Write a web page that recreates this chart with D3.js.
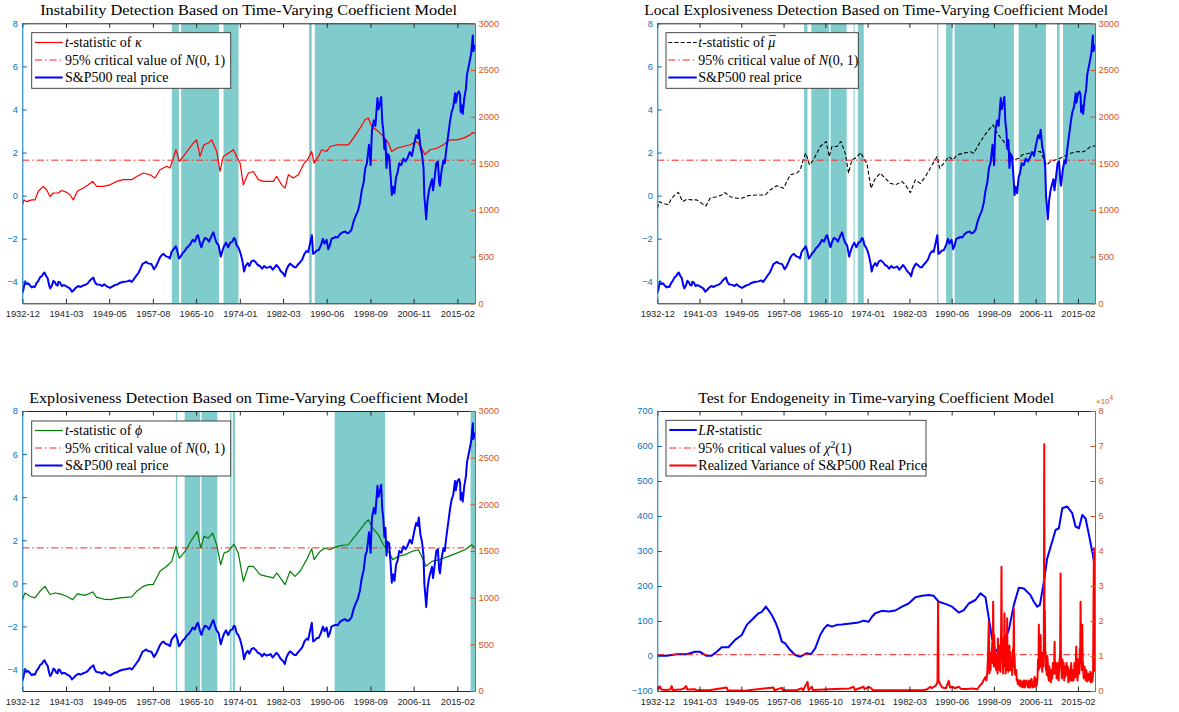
<!DOCTYPE html>
<html>
<head>
<meta charset="utf-8">
<script src="https://cdn.jsdelivr.net/npm/d3@7"></script>
<style>
  body { margin: 0; background: #fff; }
  svg { display: block; }
</style>
</head>
<body>
<svg id="chart" width="1179" height="712"></svg>
<script>
// ---- tick labels ----
const dateTicks = ["1932-12","1941-03","1949-05","1957-08","1965-10","1974-01","1982-03","1990-06","1998-09","2006-11","2015-02"];
const dateRange = ["1932-12","2018-06"];
const tstatTicks = [-4,-2,0,2,4,6,8];
const priceTicks = [0,500,1000,1500,2000,2500,3000];
const lrTicks = [-100,0,100,200,300,400,500,600,700];
const rvTicks = [0,1,2,3,4,5,6,7,8];

// ---- critical values ----
const critNormal = 1.645;
const critChi2 = 3.84;

// ---- S&P500 real price (decimal year, level) ----
const spReal = [[1932.92,110],[1933.1,140],[1933.3,200],[1933.45,235],[1933.7,205],[1934.0,215],[1934.4,190],[1934.7,170],[1935.0,180],[1935.3,175],[1935.6,215],[1935.94,240],[1936.3,280],[1936.6,290],[1936.9,320],[1937.1,330],[1937.4,295],[1937.7,270],[1938.0,190],[1938.2,160],[1938.5,190],[1938.8,240],[1939.1,225],[1939.3,200],[1939.6,190],[1939.75,230],[1940.0,225],[1940.4,185],[1940.7,195],[1941.0,190],[1941.4,175],[1941.9,160],[1942.3,125],[1942.6,140],[1943.0,165],[1943.5,185],[1943.9,175],[1944.4,190],[1944.9,200],[1945.3,215],[1945.7,245],[1946.1,265],[1946.35,275],[1946.6,230],[1946.9,205],[1947.3,200],[1947.7,195],[1948.0,185],[1948.4,205],[1948.8,185],[1949.3,170],[1949.5,165],[1949.9,180],[1950.4,195],[1950.8,200],[1951.2,215],[1951.7,225],[1952.2,230],[1952.7,235],[1953.2,245],[1953.6,230],[1954.0,260],[1954.5,300],[1954.9,330],[1955.3,380],[1955.6,420],[1955.9,430],[1956.3,445],[1956.6,430],[1956.9,425],[1957.3,420],[1957.8,365],[1958.2,400],[1958.6,450],[1958.9,490],[1959.3,520],[1959.6,530],[1959.9,510],[1960.2,500],[1960.5,495],[1960.8,480],[1961.1,550],[1961.5,580],[1961.9,610],[1962.2,560],[1962.5,480],[1962.8,500],[1963.2,540],[1963.6,560],[1963.9,590],[1964.3,610],[1964.7,640],[1965.1,680],[1965.5,660],[1965.9,720],[1966.1,730],[1966.5,640],[1966.75,600],[1967.0,650],[1967.4,700],[1967.8,690],[1968.2,660],[1968.5,700],[1968.8,740],[1969.0,760],[1969.3,700],[1969.6,650],[1970.0,620],[1970.4,500],[1970.7,560],[1971.0,610],[1971.4,650],[1971.8,600],[1972.2,650],[1972.6,660],[1972.9,700],[1973.1,690],[1973.4,620],[1973.7,600],[1974.0,560],[1974.3,500],[1974.6,420],[1974.8,340],[1975.1,400],[1975.5,430],[1975.8,400],[1976.2,450],[1976.6,460],[1977.0,440],[1977.4,410],[1977.8,400],[1978.2,370],[1978.6,400],[1979.0,380],[1979.4,385],[1979.8,395],[1980.2,360],[1980.5,380],[1980.9,410],[1981.3,385],[1981.7,345],[1982.2,320],[1982.5,290],[1982.8,360],[1983.2,405],[1983.5,425],[1983.9,405],[1984.3,385],[1984.6,385],[1984.9,410],[1985.4,440],[1985.8,470],[1986.2,530],[1986.6,560],[1986.9,550],[1987.3,650],[1987.6,730],[1987.85,530],[1988.1,540],[1988.5,565],[1988.9,570],[1989.3,620],[1989.7,690],[1990.0,640],[1990.4,680],[1990.7,580],[1991.0,620],[1991.3,690],[1991.7,700],[1992.1,710],[1992.5,705],[1992.9,740],[1993.4,760],[1993.9,770],[1994.3,750],[1994.7,760],[1995.1,790],[1995.5,880],[1995.9,940],[1996.3,990],[1996.7,1080],[1997.0,1200],[1997.4,1300],[1997.7,1450],[1998.0,1500],[1998.4,1700],[1998.7,1480],[1998.95,1850],[1999.3,1960],[1999.6,1900],[1999.8,2050],[2000.0,2200],[2000.2,2080],[2000.5,2150],[2000.7,2210],[2000.9,1950],[2001.1,1850],[2001.3,1650],[2001.5,1750],[2001.7,1450],[2001.9,1600],[2002.2,1580],[2002.5,1350],[2002.7,1160],[2002.9,1250],[2003.2,1180],[2003.5,1350],[2003.8,1400],[2004.1,1500],[2004.5,1480],[2004.9,1550],[2005.3,1520],[2005.7,1560],[2006.1,1620],[2006.5,1580],[2006.9,1700],[2007.3,1800],[2007.6,1770],[2007.8,1860],[2008.1,1680],[2008.4,1600],[2008.7,1450],[2008.85,1150],[2009.0,1050],[2009.2,900],[2009.45,1100],[2009.7,1200],[2009.95,1260],[2010.3,1330],[2010.5,1210],[2010.8,1350],[2011.1,1500],[2011.4,1520],[2011.65,1300],[2011.8,1260],[2012.1,1420],[2012.45,1530],[2012.7,1500],[2013.0,1650],[2013.4,1820],[2013.7,1950],[2014.0,2050],[2014.3,2100],[2014.65,2250],[2014.8,2150],[2015.1,2250],[2015.4,2270],[2015.6,2230],[2015.7,2050],[2016.0,2120],[2016.1,2030],[2016.4,2200],[2016.7,2300],[2016.9,2450],[2017.3,2560],[2017.7,2680],[2018.0,2870],[2018.1,2700],[2018.3,2760],[2018.42,2720]];

// ---- t-statistic of kappa ----
const tKappa = [[1932.92,-0.43],[1933.24,-0.2],[1933.74,-0.28],[1934.69,-0.2],[1935.31,-0.2],[1935.94,0.2],[1936.88,0.43],[1937.51,0.27],[1938.14,-0.04],[1938.77,0.12],[1939.72,0.12],[1940.35,0.24],[1941.29,0.15],[1941.92,0.04],[1942.55,-0.2],[1943.31,0.2],[1944.44,0.35],[1945.38,0.5],[1946.2,0.66],[1946.96,0.43],[1948.22,0.43],[1949.48,0.5],[1950.74,0.66],[1952.0,0.74],[1953.57,0.74],[1954.52,0.89],[1955.78,1.05],[1957.04,0.97],[1957.98,0.82],[1958.92,1.2],[1960.18,1.36],[1960.81,1.28],[1961.44,1.74],[1961.94,2.13],[1962.58,1.59],[1963.33,1.82],[1964.28,2.13],[1965.22,2.44],[1965.85,2.59],[1966.48,1.82],[1967.24,2.36],[1968.06,2.44],[1968.68,2.59],[1969.63,2.05],[1970.26,1.12],[1970.89,1.82],[1971.83,1.97],[1972.78,2.13],[1973.54,1.74],[1974.04,1.51],[1974.67,0.5],[1975.61,1.05],[1976.55,1.12],[1977.5,0.74],[1978.44,0.66],[1979.39,0.66],[1980.33,0.66],[1980.96,0.89],[1981.91,0.5],[1982.54,0.35],[1983.17,0.97],[1984.11,0.82],[1985.06,0.97],[1986.0,1.44],[1986.95,1.74],[1987.58,2.05],[1988.02,1.51],[1988.84,1.82],[1989.47,2.13],[1990.41,2.05],[1991.04,2.28],[1992.3,2.36],[1993.56,2.36],[1994.5,2.36],[1995.45,2.67],[1996.71,3.13],[1997.65,3.52],[1998.28,3.6],[1998.91,3.21],[2000.17,2.98],[2001.11,2.75],[2002.06,2.44],[2002.69,2.05],[2003.63,2.2],[2004.89,2.28],[2006.15,2.36],[2007.41,2.51],[2008.16,2.28],[2008.98,1.9],[2009.93,2.13],[2011.19,2.2],[2012.45,2.36],[2013.71,2.59],[2014.97,2.59],[2016.23,2.67],[2017.49,2.82],[2017.99,2.93],[2018.42,2.87]];

// ---- t-statistic of mu-bar ----
const tMuBar = [[1932.92,-0.59],[1933.31,-0.28],[1934.09,-0.36],[1935.07,-0.43],[1935.72,-0.12],[1936.37,0.03],[1937.03,0.15],[1937.87,-0.28],[1938.66,-0.17],[1939.63,-0.2],[1940.61,-0.2],[1941.59,-0.36],[1942.44,-0.48],[1943.22,-0.12],[1944.52,-0.05],[1945.5,0.03],[1946.15,0.14],[1947.13,-0.05],[1948.44,-0.12],[1949.42,-0.12],[1950.72,0.0],[1952.35,0.03],[1953.98,0.03],[1954.96,0.26],[1956.26,0.46],[1957.57,0.34],[1958.87,0.96],[1960.18,1.04],[1960.83,1.19],[1961.61,1.81],[1961.94,1.97],[1962.65,1.42],[1963.43,1.66],[1964.74,2.28],[1965.91,2.51],[1966.5,1.81],[1967.02,2.28],[1968.0,2.28],[1968.78,2.51],[1969.63,1.97],[1970.28,1.04],[1970.93,1.66],[1971.59,1.73],[1972.7,2.0],[1973.35,1.66],[1973.87,1.5],[1974.65,0.34],[1975.5,0.8],[1976.48,1.04],[1977.46,0.8],[1978.43,0.57],[1979.41,0.5],[1980.72,0.65],[1981.37,0.5],[1982.35,0.14],[1983.32,0.73],[1984.3,0.57],[1985.28,0.88],[1986.58,1.42],[1987.56,1.81],[1988.08,1.27],[1988.87,1.5],[1989.85,1.81],[1990.69,1.66],[1991.47,1.89],[1992.78,1.97],[1994.08,2.04],[1994.74,1.97],[1996.04,2.51],[1997.35,2.97],[1998.52,3.28],[1999.3,2.89],[2000.61,2.51],[2001.58,2.12],[2002.56,1.66],[2003.54,1.73],[2004.19,1.89],[2005.49,1.97],[2006.8,2.04],[2007.78,2.04],[2008.95,1.42],[2009.73,1.58],[2011.04,1.69],[2012.34,1.81],[2013.65,1.97],[2014.95,2.04],[2016.26,2.04],[2017.56,2.28],[2018.42,2.31]];

// ---- t-statistic of phi ----
const tPhi = [[1932.92,-0.76],[1933.42,-0.45],[1934.37,-0.6],[1935.31,-0.68],[1936.25,-0.37],[1937.2,-0.14],[1938.14,-0.52],[1939.09,-0.45],[1940.03,-0.49],[1941.29,-0.6],[1942.43,-0.76],[1943.31,-0.49],[1944.75,-0.56],[1946.2,-0.4],[1946.96,-0.65],[1948.22,-0.73],[1949.48,-0.76],[1951.37,-0.68],[1953.57,-0.63],[1954.52,-0.37],[1955.78,-0.14],[1956.72,-0.06],[1957.66,-0.06],[1958.92,0.56],[1960.18,0.79],[1961.13,1.02],[1961.94,1.71],[1962.58,1.17],[1963.65,1.48],[1964.91,2.02],[1965.98,2.41],[1966.61,1.64],[1967.24,2.18],[1968.06,2.1],[1968.87,2.33],[1969.63,1.79],[1970.38,0.86],[1971.01,1.4],[1971.83,1.48],[1972.9,1.82],[1973.72,1.4],[1974.67,0.09],[1975.61,0.79],[1976.55,0.79],[1977.81,0.4],[1979.07,0.32],[1980.33,0.25],[1980.96,0.48],[1981.91,0.17],[1982.54,-0.06],[1983.48,0.56],[1984.43,0.32],[1985.37,0.56],[1986.63,1.1],[1987.58,1.6],[1988.02,1.1],[1989.15,1.48],[1990.1,1.64],[1991.04,1.56],[1991.98,1.68],[1993.24,1.76],[1994.5,1.79],[1995.45,2.1],[1996.71,2.48],[1997.65,2.79],[1998.28,2.95],[1999.1,2.56],[2000.17,2.25],[2001.11,1.79],[2002.06,1.48],[2002.88,1.1],[2003.95,1.25],[2005.21,1.33],[2006.47,1.48],[2007.73,1.56],[2008.35,1.25],[2009.17,0.79],[2010.24,1.02],[2011.81,1.1],[2013.39,1.25],[2014.96,1.4],[2016.53,1.56],[2017.79,1.79],[2018.42,1.64]];

// ---- LR statistic ----
const lrStat = [[1932.92,1],[1934.74,1],[1936.7,5],[1938.66,5],[1940.29,12],[1941.26,12],[1942.44,1],[1943.55,1],[1944.52,12],[1945.5,25],[1946.81,25],[1948.11,46],[1949.42,60],[1950.39,89],[1951.7,108],[1952.68,122],[1953.33,126],[1954.11,141],[1954.63,131],[1955.28,117],[1955.94,98],[1956.59,74],[1957.24,41],[1957.89,36],[1958.87,17],[1959.85,3],[1960.83,-2],[1962.13,8],[1962.91,5],[1963.76,22],[1964.74,60],[1965.52,79],[1966.17,89],[1967.02,84],[1968.0,89],[1968.98,90],[1970.61,93],[1972.24,96],[1973.22,101],[1974.2,98],[1974.85,112],[1975.5,122],[1976.8,129],[1978.11,127],[1979.41,130],[1980.72,141],[1982.02,150],[1983.32,168],[1984.63,172],[1985.93,174],[1986.91,172],[1987.89,155],[1989.19,149],[1990.5,141],[1991.8,124],[1992.78,131],[1993.76,150],[1995.06,160],[1996.04,179],[1997.02,168],[1997.67,108],[1998.32,50],[1998.97,12],[1999.63,22],[2000.61,41],[2001.58,74],[2002.56,146],[2003.54,195],[2004.52,193],[2005.82,174],[2006.47,155],[2007.12,141],[2007.65,146],[2008.43,212],[2009.08,279],[2010.06,327],[2010.71,360],[2011.36,365],[2012.02,422],[2012.99,427],[2013.97,408],[2014.62,370],[2015.28,365],[2015.93,403],[2016.58,393],[2017.24,346],[2017.89,298],[2018.21,270],[2018.42,288]];

// ---- realized variance of the real price (units of 1e4) ----
const realVar = [[1932.92,0.15],[1933.1,0.05],[1933.44,0.13],[1933.7,0.04],[1934.5,0.03],[1935.4,0.04],[1935.72,0.14],[1935.9,0.03],[1937.5,0.04],[1938.1,0.07],[1938.53,0.14],[1938.8,0.04],[1940.3,0.05],[1940.5,0.02],[1943.0,0.02],[1946.48,0.1],[1946.7,0.02],[1950.0,0.01],[1955.61,0.1],[1955.8,0.02],[1957.24,0.09],[1957.5,0.02],[1960.2,0.03],[1961.15,0.08],[1961.4,0.02],[1962.26,0.26],[1962.45,0.03],[1963.1,0.12],[1963.3,0.03],[1966.5,0.05],[1970.4,0.07],[1971.26,0.12],[1971.5,0.03],[1973.22,0.12],[1973.4,0.05],[1974.2,0.12],[1974.6,0.09],[1975.0,0.03],[1978.0,0.02],[1982.0,0.02],[1984.6,0.02],[1985.5,0.04],[1986.26,0.12],[1986.5,0.08],[1987.3,0.15],[1987.65,0.25],[1987.76,2.53],[1987.86,0.3],[1988.2,0.18],[1988.6,0.1],[1989.3,0.08],[1989.85,0.29],[1990.1,0.1],[1990.6,0.12],[1991.0,0.08],[1991.8,0.12],[1992.3,0.06],[1993.5,0.06],[1994.5,0.07],[1995.39,0.05],[1995.9,0.15],[1996.37,0.22],[1996.7,0.32],[1997.0,0.4],[1997.2,0.3],[1997.35,0.48],[1997.5,0.9],[1997.67,1.98],[1997.8,0.5],[1997.9,0.9],[1998.0,0.6],[1998.1,1.1],[1998.2,0.9],[1998.35,1.4],[1998.44,0.8],[1998.52,2.55],[1998.65,0.7],[1998.72,1.6],[1998.8,1.3],[1998.88,0.7],[1998.97,1.12],[1999.1,0.6],[1999.2,1.0],[1999.3,0.84],[1999.38,0.5],[1999.45,1.5],[1999.55,0.7],[1999.63,1.31],[1999.72,0.9],[1999.8,0.6],[1999.88,1.1],[1999.96,0.55],[2000.08,1.8],[2000.15,3.55],[2000.22,1.3],[2000.28,0.9],[2000.35,1.4],[2000.41,0.84],[2000.48,0.5],[2000.55,1.5],[2000.64,0.9],[2000.74,2.22],[2000.82,0.7],[2000.9,1.0],[2000.98,0.5],[2001.06,0.74],[2001.15,1.6],[2001.2,0.9],[2001.26,2.08],[2001.33,0.6],[2001.4,0.9],[2001.5,0.55],[2001.6,1.0],[2001.7,1.3],[2001.8,0.6],[2001.91,1.12],[2001.98,0.7],[2002.05,0.6],[2002.15,0.9],[2002.24,0.46],[2002.32,0.8],[2002.4,1.2],[2002.48,0.7],[2002.56,2.36],[2002.63,0.9],[2002.7,1.0],[2002.8,0.5],[2002.89,0.46],[2003.05,0.6],[2003.12,0.3],[2003.2,0.35],[2003.35,0.2],[2003.54,0.31],[2003.7,0.15],[2003.8,0.3],[2003.9,0.25],[2004.05,0.12],[2004.19,0.27],[2004.3,0.1],[2004.4,0.12],[2004.5,0.3],[2004.6,0.3],[2004.7,0.1],[2004.8,0.15],[2005.0,0.3],[2005.17,0.22],[2005.3,0.12],[2005.4,0.1],[2005.5,0.3],[2005.6,0.3],[2005.75,0.1],[2005.9,0.12],[2006.0,0.35],[2006.1,0.25],[2006.3,0.1],[2006.47,0.24],[2006.6,0.4],[2006.7,0.12],[2006.8,0.2],[2006.9,0.35],[2007.0,0.15],[2007.12,0.27],[2007.22,0.5],[2007.3,0.9],[2007.38,0.6],[2007.45,1.89],[2007.5,0.9],[2007.55,0.65],[2007.62,1.2],[2007.68,1.1],[2007.73,0.7],[2007.78,1.6],[2007.84,1.0],[2007.9,0.7],[2008.0,1.1],[2008.1,0.55],[2008.18,0.9],[2008.25,1.0],[2008.35,0.7],[2008.42,1.4],[2008.5,7.05],[2008.56,1.6],[2008.62,2.3],[2008.7,1.0],[2008.76,1.12],[2008.83,0.6],[2008.9,0.7],[2009.0,0.46],[2009.1,1.0],[2009.2,0.8],[2009.3,0.4],[2009.4,0.3],[2009.5,0.7],[2009.6,0.5],[2009.7,0.3],[2009.8,0.25],[2009.93,0.6],[2010.06,0.36],[2010.18,0.8],[2010.3,0.6],[2010.42,0.5],[2010.52,1.41],[2010.6,0.6],[2010.7,0.5],[2010.8,0.8],[2010.91,0.36],[2011.0,0.7],[2011.1,0.5],[2011.2,0.8],[2011.3,0.3],[2011.4,0.6],[2011.5,0.9],[2011.6,1.1],[2011.69,3.36],[2011.75,1.2],[2011.8,0.8],[2011.88,0.5],[2011.95,0.36],[2012.05,0.9],[2012.2,0.6],[2012.3,0.8],[2012.4,0.3],[2012.5,0.7],[2012.6,0.4],[2012.7,0.55],[2012.85,0.8],[2012.99,0.46],[2013.1,0.7],[2013.2,0.25],[2013.3,0.5],[2013.4,0.6],[2013.52,0.3],[2013.65,0.55],[2013.78,0.8],[2013.9,0.3],[2014.0,0.6],[2014.1,0.5],[2014.2,0.3],[2014.3,0.36],[2014.4,0.8],[2014.5,0.7],[2014.6,0.4],[2014.68,0.9],[2014.76,1.27],[2014.84,0.5],[2014.9,0.6],[2015.0,0.3],[2015.08,0.46],[2015.17,0.9],[2015.25,0.8],[2015.35,0.5],[2015.45,1.2],[2015.52,0.8],[2015.6,2.55],[2015.68,1.3],[2015.75,1.0],[2015.84,0.6],[2015.93,1.89],[2016.0,0.9],[2016.1,0.7],[2016.18,0.4],[2016.26,0.36],[2016.38,0.7],[2016.5,0.5],[2016.6,0.3],[2016.7,0.6],[2016.8,0.35],[2016.9,0.27],[2017.05,0.5],[2017.2,0.35],[2017.35,0.3],[2017.5,0.55],[2017.6,0.25],[2017.7,0.3],[2017.8,0.5],[2017.89,0.27],[2017.98,0.4],[2018.05,0.6],[2018.13,2.5],[2018.21,4.08],[2018.3,1.5],[2018.36,0.9],[2018.42,0.55]];

// ---- rejection periods (start month, end month) ----
const kappaBands = [["1961-03","1962-07"],["1962-12","1970-02"],["1970-12","1973-10"],["1987-02","1987-08"],["1988-03","2018-06"]];
const muBarBands = [["1961-08","1962-04"],["1963-01","1966-07"],["1966-10","1969-12"],["1971-04","1971-06"],["1972-02","1973-04"],["1987-08","1987-11"],["1989-05","1990-08"],["1991-01","2002-08"],["2003-07","2008-11"],["2011-01","2011-07"],["2012-03","2018-06"]];
const phiBands = [["1961-12","1962-03"],["1963-08","1966-07"],["1966-10","1969-10"],["1972-03","1972-06"],["1972-09","1973-02"],["1991-12","2001-06"],["2017-08","2018-06"]];

// ---- colours ----
const LEFT_C = "#0072BD", RIGHT_C = "#D95319", AXIS_C = "#262626", BAND_C = "#80CCCC";
const CRIT_DASH = "7,3,1.5,3";

const ym = s => { const [y, m] = s.split("-").map(Number); return y + (m - 1) / 12; };
const svg = d3.select("#chart");
const SERIF = "'Liberation Serif','Times New Roman',serif";
const SANS = "'Liberation Sans',Arial,Helvetica,sans-serif";

// legend label made of plain / italic / superscript / barred pieces
function richText(sel, parts, size) {
  parts.forEach(p => {
    const ts = sel.append("tspan").text(p.t);
    if (p.i) ts.attr("font-style", "italic");
    if (p.sup) ts.attr("dy", -5).attr("font-size", size * 0.7);
    if (p.down) ts.attr("dy", 5);
    if (p.bar) {
      // macron drawn over the preceding glyph
      sel.append("tspan").text("\u00AF").attr("dx", -6.3).attr("dy", -1.2);
    }
  });
}

function drawPanel(cfg, idx) {
  const { l, r, t, b } = cfg.box;
  const x = d3.scaleLinear().domain(dateRange.map(ym)).range([l, r]);
  const yL = d3.scaleLinear().domain(cfg.leftDomain).range([b, t]);
  const yR = d3.scaleLinear().domain(cfg.rightDomain).range([b, t]);
  const g = svg.append("g");

  const clipId = "clip" + idx;
  g.append("clipPath").attr("id", clipId).append("rect")
    .attr("x", l).attr("y", t).attr("width", r - l).attr("height", b - t);
  const plot = g.append("g").attr("clip-path", `url(#${clipId})`);

  // shaded rejection periods
  plot.selectAll("rect.band").data(cfg.bands || []).join("rect")
    .attr("class", "band")
    .attr("x", d => x(ym(d[0])))
    .attr("width", d => Math.max(1, x(ym(d[1])) - x(ym(d[0]))))
    .attr("y", t).attr("height", b - t)
    .attr("fill", BAND_C);

  const lineL = d3.line().x(d => x(d[0])).y(d => yL(d[1]));
  const lineR = d3.line().x(d => x(d[0])).y(d => yR(d[1]));

  // left-axis statistic
  plot.append("path").datum(cfg.stat)
    .attr("d", lineL).attr("fill", "none")
    .attr("stroke", cfg.statColor).attr("stroke-width", cfg.statWidth)
    .attr("stroke-dasharray", cfg.statDash || null)
    .attr("stroke-linejoin", "round");

  // critical value
  plot.append("path").datum(dateRange.map(s => [ym(s), cfg.crit]))
    .attr("d", lineL).attr("fill", "none")
    .attr("stroke", "#FF2020").attr("stroke-width", 1)
    .attr("stroke-dasharray", CRIT_DASH);

  // right-axis series
  plot.append("path").datum(cfg.rightSeries)
    .attr("d", lineR).attr("fill", "none")
    .attr("stroke", cfg.rightColor).attr("stroke-width", 2)
    .attr("stroke-linejoin", "round");

  // axes
  const TL = 4.5;
  const axB = g.append("g").attr("transform", `translate(0,${b})`)
    .call(d3.axisBottom(x).tickValues(dateTicks.map(ym))
      .tickFormat((d, i) => dateTicks[i]).tickSizeInner(-TL).tickSizeOuter(0).tickPadding(7.5));
  const axT = g.append("g").attr("transform", `translate(0,${t})`)
    .call(d3.axisTop(x).tickValues(dateTicks.map(ym))
      .tickFormat("").tickSizeInner(-TL).tickSizeOuter(0));
  [axB, axT].forEach(a => {
    a.select(".domain").attr("stroke", AXIS_C);
    a.selectAll(".tick line").attr("stroke", AXIS_C);
    a.selectAll("text").attr("fill", AXIS_C);
    a.attr("font-family", SANS).attr("font-size", 9.3);
  });

  const axL = g.append("g").attr("transform", `translate(${l},0)`)
    .call(d3.axisLeft(yL).tickValues(cfg.leftTicks).tickFormat(d3.format("d"))
      .tickSizeInner(-TL).tickSizeOuter(0).tickPadding(4.5));
  axL.attr("font-family", SANS).attr("font-size", 9.3);
  axL.select(".domain").attr("stroke", LEFT_C);
  axL.selectAll(".tick line").attr("stroke", LEFT_C);
  axL.selectAll("text").attr("fill", LEFT_C);

  const axR = g.append("g").attr("transform", `translate(${r},0)`)
    .call(d3.axisRight(yR).tickValues(cfg.rightTicks).tickFormat(d3.format("d"))
      .tickSizeInner(-TL).tickSizeOuter(0).tickPadding(3.5));
  axR.attr("font-family", SANS).attr("font-size", 9.3);
  axR.select(".domain").attr("stroke", RIGHT_C);
  axR.selectAll(".tick line").attr("stroke", RIGHT_C);
  axR.selectAll("text").attr("fill", RIGHT_C);

  if (cfg.rightExponent) {
    const ex = g.append("text").attr("x", r + 1).attr("y", t - 7)
      .attr("font-family", SANS).attr("font-size", 8).attr("fill", RIGHT_C);
    ex.append("tspan").text("\u00D710");
    ex.append("tspan").text(cfg.rightExponent).attr("dy", -4).attr("font-size", 6.5);
  }

  // title
  g.append("text").attr("x", (l + r) / 2).attr("y", cfg.titleY)
    .attr("text-anchor", "middle").attr("font-family", SERIF)
    .attr("font-size", 15.5).attr("fill", "#000")
    .attr("textLength", cfg.titleW).attr("lengthAdjust", "spacingAndGlyphs")
    .text(cfg.title);

  // legend
  const L = cfg.legend;
  g.append("rect").attr("x", L.x0).attr("y", L.y0)
    .attr("width", L.x1 - L.x0).attr("height", L.y1 - L.y0)
    .attr("fill", "#fff").attr("stroke", "#333").attr("stroke-width", 0.9);
  L.items.forEach((it, i) => {
    const cy = L.rows[i];
    g.append("line").attr("x1", L.lx0).attr("x2", L.lx1).attr("y1", cy).attr("y2", cy)
      .attr("stroke", it.color).attr("stroke-width", it.width)
      .attr("stroke-dasharray", it.dash || null);
    const tx = g.append("text").attr("x", L.tx).attr("y", cy + 4.8)
      .attr("font-family", SERIF).attr("font-size", 14).attr("fill", "#000");
    richText(tx, it.parts, 14);
  });
}

const priceLegend = { color: "#0000FF", width: 2, parts: [{ t: "S&P500 real price" }] };
const critLegend = { color: "#FF2020", width: 1, dash: CRIT_DASH,
  parts: [{ t: "95% critical value of " }, { t: "N", i: true }, { t: "(0, 1)" }] };

const panels = [
  {
    box: { l: 22.3, r: 475, t: 23.3, b: 303.3 }, titleY: 14.5, titleW: 417,
    title: "Instability Detection Based on Time-Varying Coefficient Model",
    stat: tKappa, statColor: "#FF0000", statWidth: 1.2, crit: critNormal,
    bands: kappaBands, leftDomain: [-5, 8], leftTicks: tstatTicks,
    rightSeries: spReal, rightColor: "#0000FF", rightDomain: [0, 3000], rightTicks: priceTicks,
    legend: { x0: 31.7, x1: 230.7, y0: 32.7, y1: 88.3, lx0: 35, lx1: 62.7, tx: 65, rows: [42.5, 60, 77.5],
      items: [{ color: "#FF0000", width: 1.2, parts: [{ t: "t", i: true }, { t: "-statistic of " }, { t: "\u03BA", i: true }] }, critLegend, priceLegend] }
  },
  {
    box: { l: 657.3, r: 1095, t: 23.3, b: 303.3 }, titleY: 14.5, titleW: 464,
    title: "Local Explosiveness Detection Based on Time-Varying Coefficient Model",
    stat: tMuBar, statColor: "#000000", statWidth: 1.1, statDash: "4,2.2", crit: critNormal,
    bands: muBarBands, leftDomain: [-5, 8], leftTicks: tstatTicks,
    rightSeries: spReal, rightColor: "#0000FF", rightDomain: [0, 3000], rightTicks: priceTicks,
    legend: { x0: 666, x1: 858.3, y0: 32.7, y1: 88.3, lx0: 668.3, lx1: 696.7, tx: 698.3, rows: [42.5, 60, 77.5],
      items: [{ color: "#000000", width: 1.1, dash: "4,2.2", parts: [{ t: "t", i: true }, { t: "-statistic of " }, { t: "\u03BC", i: true, bar: true }] }, critLegend, priceLegend] }
  },
  {
    box: { l: 22.3, r: 475, t: 411, b: 691 }, titleY: 402.5, titleW: 439,
    title: "Explosiveness Detection Based on Time-Varying Coefficient Model",
    stat: tPhi, statColor: "#008000", statWidth: 1.2, crit: critNormal,
    bands: phiBands, leftDomain: [-5, 8], leftTicks: tstatTicks,
    rightSeries: spReal, rightColor: "#0000FF", rightDomain: [0, 3000], rightTicks: priceTicks,
    legend: { x0: 31.7, x1: 230.7, y0: 421, y1: 476, lx0: 35, lx1: 62.7, tx: 65, rows: [430.5, 448, 465.5],
      items: [{ color: "#008000", width: 1.2, parts: [{ t: "t", i: true }, { t: "-statistic of " }, { t: "\u03D5", i: true }] }, critLegend, priceLegend] }
  },
  {
    box: { l: 657.3, r: 1095, t: 411, b: 691 }, titleY: 402.5, titleW: 356,
    title: "Test for Endogeneity in Time-varying Coefficient Model",
    stat: lrStat, statColor: "#0000FF", statWidth: 2, crit: critChi2,
    bands: [], leftDomain: [-100, 700], leftTicks: lrTicks,
    rightSeries: realVar, rightColor: "#FF0000", rightDomain: [0, 8], rightTicks: rvTicks, rightExponent: "4",
    legend: { x0: 666, x1: 926, y0: 420.3, y1: 476, lx0: 669.3, lx1: 696.7, tx: 698.3, rows: [430, 448, 465.5],
      items: [
        { color: "#0000FF", width: 2, parts: [{ t: "LR", i: true }, { t: "-statistic" }] },
        { color: "#FF2020", width: 1, dash: CRIT_DASH, parts: [{ t: "95% critical values of " }, { t: "\u03C7", i: true }, { t: "2", sup: true }, { t: "(1)", down: true }] },
        { color: "#FF0000", width: 2, parts: [{ t: "Realized Variance of S&P500 Real Price" }] }
      ] }
  }
];

panels.forEach(drawPanel);
</script>
</body>
</html>
